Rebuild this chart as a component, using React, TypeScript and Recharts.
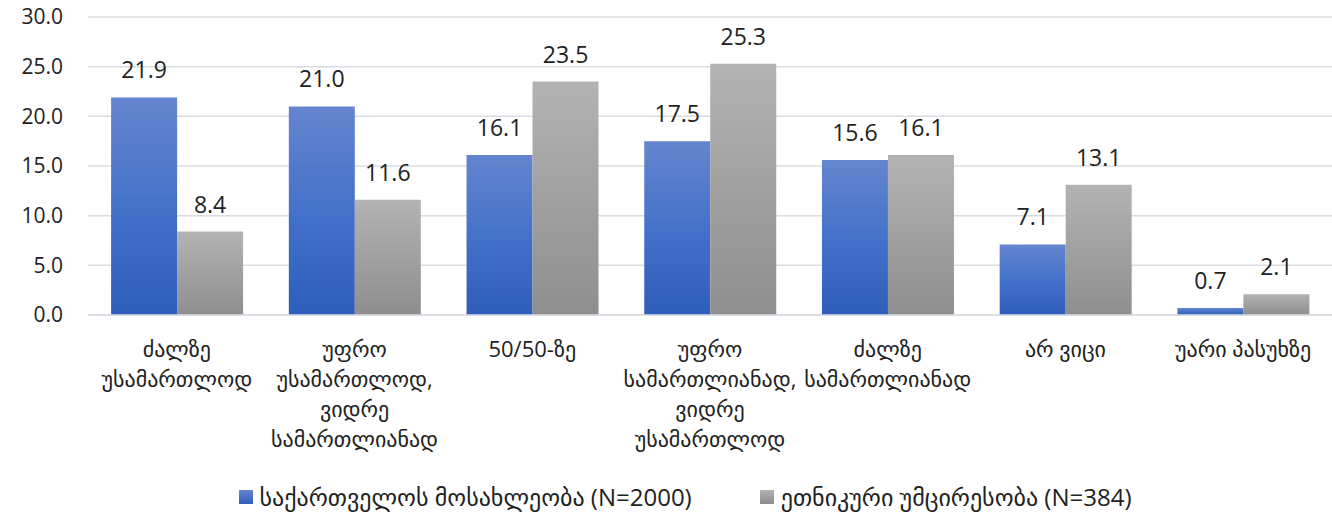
import React from "react";
import {
  BarChart,
  Bar,
  XAxis,
  YAxis,
  CartesianGrid,
  Legend,
  LabelList,
} from "recharts";

const categories = [
  "ძალზე უსამართლოდ",
  "უფრო უსამართლოდ, ვიდრე სამართლიანად",
  "50/50-ზე",
  "უფრო სამართლიანად, ვიდრე უსამართლოდ",
  "ძალზე სამართლიანად",
  "არ ვიცი",
  "უარი პასუხზე",
];
const population = [21.9, 21.0, 16.1, 17.5, 15.6, 7.1, 0.7];
const minorities = [8.4, 11.6, 23.5, 25.3, 16.1, 13.1, 2.1];
const yTicks = [0, 5, 10, 15, 20, 25, 30];
const seriesNames = [
  "საქართველოს მოსახლეობა (N=2000)",
  "ეთნიკური უმცირესობა (N=384)",
];

const data = categories.map((name, i) => ({
  name,
  pop: population[i],
  min: minorities[i],
}));

const FONT = "'Open Sans', 'DejaVu Sans', sans-serif";

// greedy word wrap, about 14 chars per line
const wrap = (s: string) => {
  const words = s.split(" ");
  const lines: string[] = [];
  let cur = "";
  words.forEach((w) => {
    if (!cur) cur = w;
    else if ((cur + " " + w).length <= 14) cur = cur + " " + w;
    else {
      lines.push(cur);
      cur = w;
    }
  });
  if (cur) lines.push(cur);
  return lines;
};

const CatTick = (props: any) => {
  const { x, y, payload } = props;
  const lines = wrap(payload.value);
  return (
    <text x={x} y={y} textAnchor="middle" fill="#222" fontSize={22} fontFamily={FONT}>
      {lines.map((l, i) => (
        <tspan key={i} x={x} y={y + 40 + i * 30}>
          {l}
        </tspan>
      ))}
    </text>
  );
};

const LegendBox = () => (
  <div
    style={{
      display: "flex",
      justifyContent: "center",
      gap: 68,
      marginLeft: 38,
      fontFamily: FONT,
      fontSize: 24,
      lineHeight: "30px",
      color: "#222",
      alignItems: "center",
      height: 36,
      whiteSpace: "nowrap",
    }}
  >
    <div style={{ display: "flex", alignItems: "center" }}>
      <span
        style={{
          width: 14,
          height: 14,
          marginRight: 7,
          background: "linear-gradient(#6585cf, #2f5ebd)",
        }}
      />
      {seriesNames[0]}
    </div>
    <div style={{ display: "flex", alignItems: "center" }}>
      <span
        style={{
          width: 14,
          height: 14,
          marginRight: 7,
          background: "linear-gradient(#b3b3b3, #8c8c8c)",
        }}
      />
      {seriesNames[1]}
    </div>
  </div>
);

export default function App() {
  return (
    <div style={{ position: "absolute", left: 0, top: 0 }}>
      <BarChart
        width={1332}
        height={515}
        data={data}
        margin={{ top: 17, right: 0, left: 0, bottom: 0 }}
        barCategoryGap="13%"
        barGap={0}
      >
        <defs>
          <linearGradient id="gBlue" x1="0" y1="0" x2="0" y2="1">
            <stop offset="0%" stopColor="#6585cf" />
            <stop offset="50%" stopColor="#4472c9" />
            <stop offset="100%" stopColor="#2e5dbb" />
          </linearGradient>
          <linearGradient id="gGray" x1="0" y1="0" x2="0" y2="1">
            <stop offset="0%" stopColor="#b3b3b3" />
            <stop offset="100%" stopColor="#8e8e8e" />
          </linearGradient>
        </defs>
        <CartesianGrid vertical={false} stroke="#d9dce3" strokeWidth={1.5} />
        <XAxis
          dataKey="name"
          interval={0}
          height={164}
          tickLine={false}
          tickSize={0}
          axisLine={{ stroke: "#d9dce3", strokeWidth: 1.5 }}
          tick={<CatTick />}
        />
        <YAxis
          width={88}
          domain={[0, 30]}
          ticks={yTicks}
          tickFormatter={(v: number) => v.toFixed(1)}
          axisLine={false}
          tickLine={false}
          tickSize={0}
          tickMargin={25}
          tick={{ fill: "#222", fontSize: 21, fontFamily: FONT }}
        />
        <Legend verticalAlign="bottom" height={36} content={<LegendBox />} />
        <Bar dataKey="pop" name={seriesNames[0]} fill="url(#gBlue)" isAnimationActive={false}>
          <LabelList
            dataKey="pop"
            position="top"
            offset={19}
            formatter={(v: any) => Number(v).toFixed(1)}
            fill="#222"
            fontSize={23}
            fontFamily={FONT}
          />
        </Bar>
        <Bar dataKey="min" name={seriesNames[1]} fill="url(#gGray)" isAnimationActive={false}>
          <LabelList
            dataKey="min"
            position="top"
            offset={19}
            formatter={(v: any) => Number(v).toFixed(1)}
            fill="#222"
            fontSize={23}
            fontFamily={FONT}
          />
        </Bar>
      </BarChart>
    </div>
  );
}
